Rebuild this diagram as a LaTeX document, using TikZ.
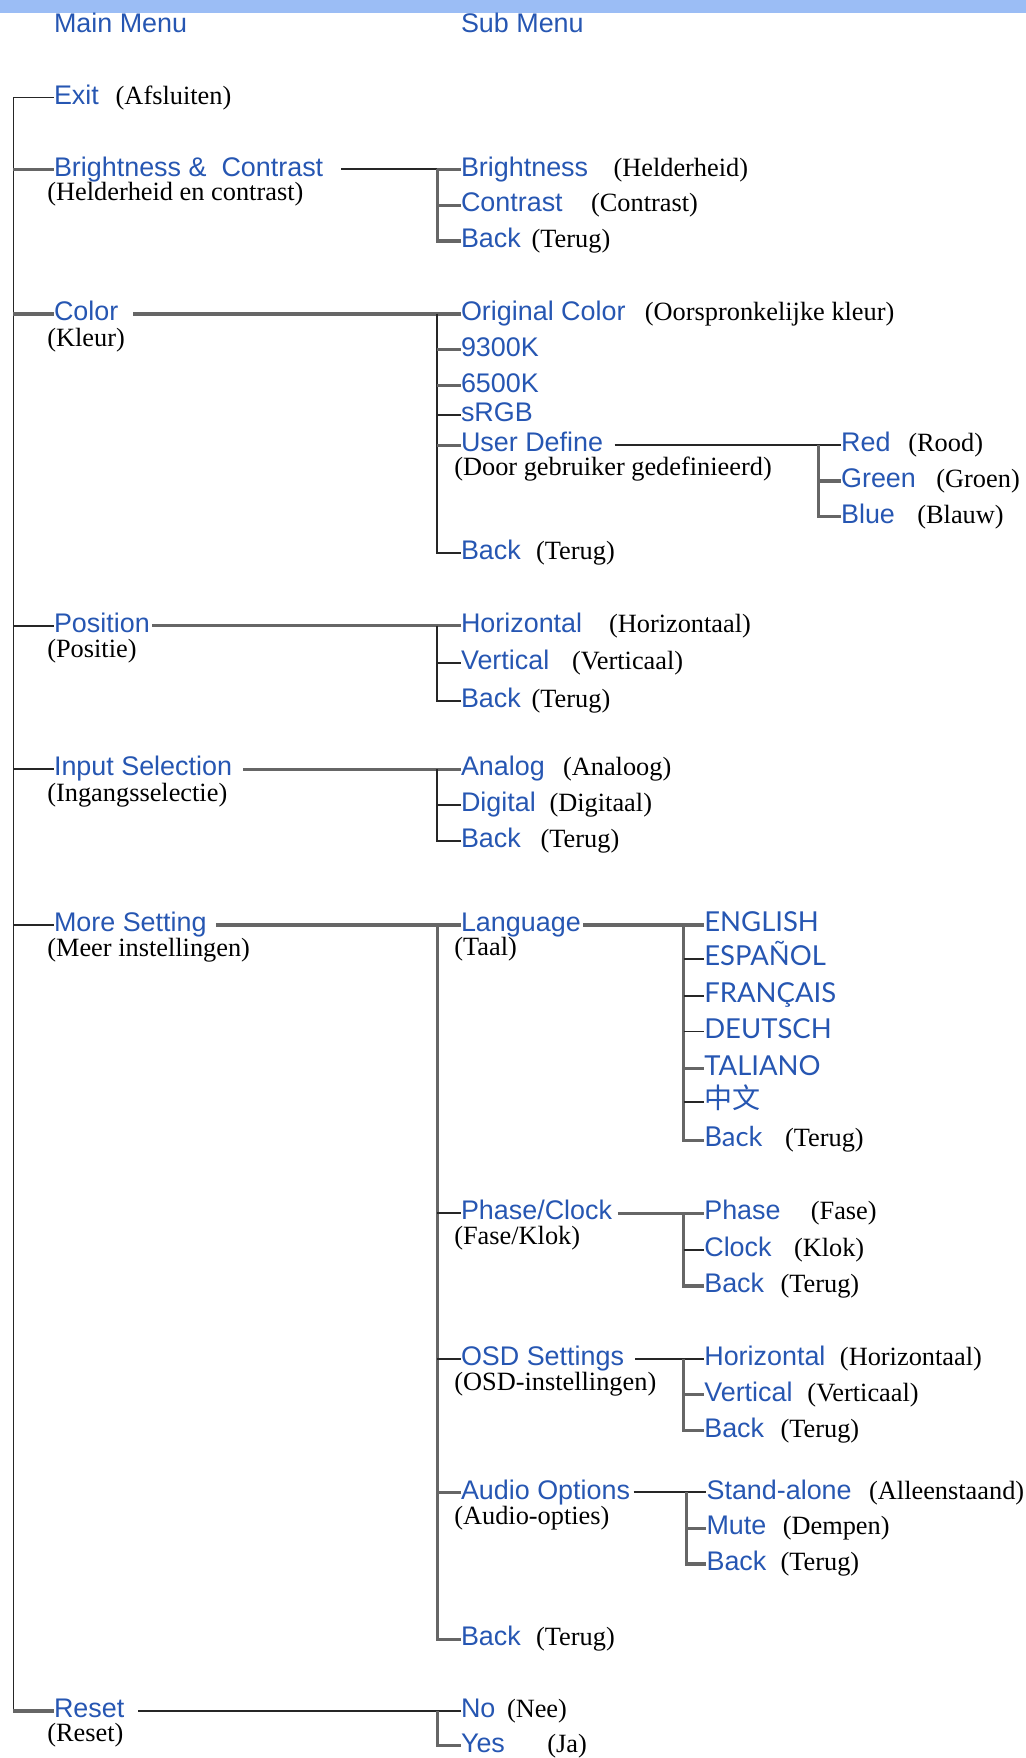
\documentclass[tikz,border=0pt]{standalone}
\usepackage{fontspec}
\newfontfamily\menufont{Liberation Sans}
\newfontfamily\nlfont{Liberation Serif}
\newfontfamily\langfont{Lato}
\newfontfamily\cjkfont{Noto Sans CJK SC}
\definecolor{menublue}{RGB}{38,86,178}
\definecolor{barblue}{RGB}{155,189,245}
\tikzset{
  mitem/.style={anchor=west, inner sep=0pt, text=menublue, font=\menufont\fontsize{24}{27}\selectfont, text height=12pt, text depth=0pt},
  litem/.style={mitem, font=\langfont\fontsize{24.5}{27}\selectfont},
  nlabel/.style={anchor=west, inner sep=0pt, font=\nlfont\fontsize{23.5}{26}\selectfont, text height=12pt, text depth=0pt},
  tline/.style={line width=1.6pt, black!85},
  gline/.style={line width=2.8pt, black!60}
}
\begin{document}
\begin{tikzpicture}[x=1pt, y=-1pt]
\useasboundingbox (0,0) rectangle (915,1568);
\fill[barblue] (0,0) rectangle (915,12);
\node[mitem] (hmain) at (48,23) {Main Menu};
\node[mitem] (hsub) at (411,23) {Sub Menu};
\coordinate (trunk) at (12,0);
\coordinate (sub) at (390,0);
\coordinate (udT) at (730,0);
\coordinate (lanT) at (610,0);
\coordinate (auT) at (612,0);
% main menu
\node[mitem] (ex) at (48,87) {Exit};
\node[nlabel] (exNl) at (103,87) {(Afsluiten)};
\node[mitem] (bc) at (48,151) {Brightness \& \ Contrast};
\node[nlabel] (bcNl) at (42,173) {(Helderheid en contrast)};
\node[mitem] (co) at (48,280) {Color};
\node[nlabel] (coNl) at (42,303) {(Kleur)};
\node[mitem] (po) at (48,558) {Position};
\node[nlabel] (poNl) at (42,580) {(Positie)};
\node[mitem] (is) at (48,686) {Input Selection};
\node[nlabel] (isNl) at (42,709) {(Ingangsselectie)};
\node[mitem] (ms) at (48,825) {More Setting};
\node[nlabel] (msNl) at (42,847) {(Meer instellingen)};
\node[mitem] (rs) at (48,1526) {Reset};
\node[nlabel] (rsNl) at (42,1547) {(Reset)};
\draw[tline] (trunk |- ex.west) -- (ex.west);
\draw[tline] (trunk |- ex.west) |- (rs.west);
\draw[gline] (trunk |- bc.west) -- (bc.west);
\draw[gline] (trunk |- co.west) -- (co.west);
\draw[tline] (trunk |- po.west) -- (po.west);
\draw[tline] (trunk |- is.west) -- (is.west);
\draw[tline] (trunk |- ms.west) -- (ms.west);
\draw[gline] (trunk |- rs.west) -- (rs.west);
% brightness & contrast
\node[mitem] (bri) at (411,151) {Brightness};
\node[nlabel] (briNl) at (547,151) {(Helderheid)};
\node[mitem] (con) at (411,183) {Contrast};
\node[nlabel] (conNl) at (527,183) {(Contrast)};
\node[mitem] (bcb) at (411,215) {Back};
\node[nlabel] (bcbNl) at (474,215) {(Terug)};
\draw[tline] ([xshift=16pt]bc.east) -- (sub |- bc.west);
\draw[gline] (sub |- bri.west) |- (bcb.west);
\draw[gline] (sub |- bri.west) -- (bri.west);
\draw[gline] (sub |- con.west) -- (con.west);
% color
\node[mitem] (oc) at (411,280) {Original Color};
\node[nlabel] (ocNl) at (575,280) {(Oorspronkelijke kleur)};
\node[mitem] (kn) at (411,312) {9300K};
\node[mitem] (ks) at (411,344) {6500K};
\node[mitem] (srgb) at (411,370) {sRGB};
\node[mitem] (ud) at (411,397) {User Define};
\node[nlabel] (udNl) at (405,418) {(Door gebruiker gedefinieerd)};
\node[mitem] (cob) at (411,493) {Back};
\node[nlabel] (cobNl) at (478,493) {(Terug)};
\draw[gline] ([xshift=13pt]co.east) -- (oc.west);
\draw[tline] (sub |- oc.west) |- (cob.west);
\draw[gline] (sub |- kn.west) -- (kn.west);
\draw[gline] (sub |- ks.west) -- (ks.west);
\draw[tline] (sub |- srgb.west) -- (srgb.west);
\draw[gline] (sub |- ud.west) -- (ud.west);
% user define
\node[mitem] (red) at (750,397) {Red};
\node[nlabel] (redNl) at (810,397) {(Rood)};
\node[mitem] (grn) at (750,429) {Green};
\node[nlabel] (grnNl) at (835,429) {(Groen)};
\node[mitem] (blu) at (750,461) {Blue};
\node[nlabel] (bluNl) at (818,461) {(Blauw)};
\draw[tline] ([xshift=10pt]ud.east) -- (red.west);
\draw[gline] (udT |- red.west) |- (blu.west);
\draw[gline] (udT |- grn.west) -- (grn.west);
% position
\node[mitem] (hor) at (411,558) {Horizontal};
\node[nlabel] (horNl) at (543,558) {(Horizontaal)};
\node[mitem] (ver) at (411,591) {Vertical};
\node[nlabel] (verNl) at (510,591) {(Verticaal)};
\node[mitem] (pob) at (411,625) {Back};
\node[nlabel] (pobNl) at (474,625) {(Terug)};
\draw[gline] ([xshift=2pt]po.east) -- (hor.west);
\draw[tline] (sub |- hor.west) |- (pob.west);
\draw[tline] (sub |- ver.west) -- (ver.west);
% input selection
\node[mitem] (ana) at (411,686) {Analog};
\node[nlabel] (anaNl) at (502,686) {(Analoog)};
\node[mitem] (dig) at (411,718) {Digital};
\node[nlabel] (digNl) at (490,718) {(Digitaal)};
\node[mitem] (isb) at (411,750) {Back};
\node[nlabel] (isbNl) at (482,750) {(Terug)};
\draw[gline] ([xshift=10pt]is.east) -- (ana.west);
\draw[tline] (sub |- ana.west) |- (isb.west);
\draw[tline] (sub |- dig.west) -- (dig.west);
% more setting
\node[mitem] (lan) at (411,825) {Language};
\node[nlabel] (lanNl) at (405,846) {(Taal)};
\node[mitem] (pc) at (411,1082) {Phase/Clock};
\node[nlabel] (pcNl) at (405,1104) {(Fase/Klok)};
\node[mitem] (osd) at (411,1212) {OSD Settings};
\node[nlabel] (osdNl) at (405,1234) {(OSD-instellingen)};
\node[mitem] (au) at (411,1331) {Audio Options};
\node[nlabel] (auNl) at (405,1354) {(Audio-opties)};
\node[mitem] (msb) at (411,1462) {Back};
\node[nlabel] (msbNl) at (478,1462) {(Terug)};
\draw[gline] ([xshift=8pt]ms.east) -- (lan.west);
\draw[gline] (sub |- lan.west) |- (msb.west);
\draw[tline] (sub |- pc.west) -- (pc.west);
\draw[tline] (sub |- osd.west) -- (osd.west);
\draw[gline] (sub |- au.west) -- (au.west);
% language
\node[litem] (en) at (628,825) {ENGLISH};
\node[litem] (es) at (628,855) {ESPAÑOL};
\node[litem] (fr) at (628,888) {FRANÇAIS};
\node[litem] (de) at (628,920) {DEUTSCH};
\node[litem] (it) at (628,953) {TALIANO};
\node[litem, font=\cjkfont\fontsize{25}{27}\selectfont] (zh) at (628,983) {中文};
\node[litem] (lanb) at (628,1017) {Back};
\node[nlabel] (lanbNl) at (700,1017) {(Terug)};
\draw[gline] ([xshift=2pt]lan.east) -- (en.west);
\draw[gline] (lanT |- en.west) |- (lanb.west);
\draw[tline] (lanT |- es.west) -- (es.west);
\draw[tline] (lanT |- fr.west) -- (fr.west);
\draw[tline] (lanT |- de.west) -- (de.west);
\draw[gline] (lanT |- it.west) -- (it.west);
\draw[tline] (lanT |- zh.west) -- (zh.west);
% phase/clock
\node[mitem] (ph) at (628,1082) {Phase};
\node[nlabel] (phNl) at (723,1082) {(Fase)};
\node[mitem] (cl) at (628,1115) {Clock};
\node[nlabel] (clNl) at (708,1115) {(Klok)};
\node[mitem] (pcb) at (628,1147) {Back};
\node[nlabel] (pcbNl) at (696,1147) {(Terug)};
\draw[gline] ([xshift=5pt]pc.east) -- (ph.west);
\draw[gline] (lanT |- ph.west) |- (pcb.west);
\draw[tline] (lanT |- cl.west) -- (cl.west);
% osd settings
\node[mitem] (oh) at (628,1212) {Horizontal};
\node[nlabel] (ohNl) at (749,1212) {(Horizontaal)};
\node[mitem] (ov) at (628,1244) {Vertical};
\node[nlabel] (ovNl) at (720,1244) {(Verticaal)};
\node[mitem] (osb) at (628,1276) {Back};
\node[nlabel] (osbNl) at (696,1276) {(Terug)};
\draw[tline] ([xshift=10pt]osd.east) -- (oh.west);
\draw[gline] (lanT |- oh.west) |- (osb.west);
\draw[gline] (lanT |- ov.west) -- (ov.west);
% audio options
\node[mitem] (sa) at (630,1331) {Stand-alone};
\node[nlabel] (saNl) at (775,1331) {(Alleenstaand)};
\node[mitem] (mu) at (630,1363) {Mute};
\node[nlabel] (muNl) at (698,1363) {(Dempen)};
\node[mitem] (aub) at (630,1395) {Back};
\node[nlabel] (aubNl) at (696,1395) {(Terug)};
\draw[tline] ([xshift=3pt]au.east) -- (sa.west);
\draw[gline] (auT |- sa.west) |- (aub.west);
\draw[gline] (auT |- mu.west) -- (mu.west);
% reset
\node[mitem] (no) at (411,1526) {No};
\node[nlabel] (noNl) at (452,1526) {(Nee)};
\node[mitem] (yes) at (411,1557) {Yes};
\node[nlabel] (yesNl) at (488,1557) {(Ja)};
\draw[tline] ([xshift=12pt]rs.east) -- (no.west);
\draw[gline] (sub |- no.west) |- (yes.west);
\end{tikzpicture}
\end{document}
